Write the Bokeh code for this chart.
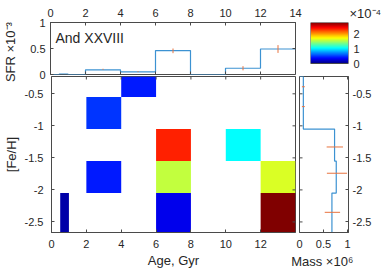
import numpy as np
from bokeh.plotting import figure
from bokeh.models import Range1d, FixedTicker, Label, LinearColorMapper, ColumnDataSource, Title
from bokeh.layouts import row, column
from bokeh.embed import file_html
from bokeh.resources import INLINE

# ---------------- data ----------------
galaxy = "And XXVIII"
age_ticks = [0, 2, 4, 6, 8, 10, 12, 14]
age_ticks_main = [0, 2, 4, 6, 8, 10, 12]
feh_ticks = [-2.5, -2, -1.5, -1, -0.5]
sfr_ticks = [0, 0.5, 1]
mass_ticks = [0, 0.5, 1]
cbar_ticks = [0, 1, 2]

# star formation history (x 1e-3), stairs over age bins (Gyr)
sfr_edges = [0, 0.5, 1, 2, 4, 6, 8, 10, 12, 14]
sfr_vals = [0.0, 0.01, 0.0, 0.09, 0.05, 0.46, 0.0, 0.12, 0.49]
sfr_err_age = [3, 5, 7, 11, 13]
sfr_err_mid = [0.10, 0.055, 0.455, 0.12, 0.49]
sfr_err_half = [0.01, 0.008, 0.045, 0.04, 0.075]

# age-metallicity cells (SFR, x 1e-4)
cell_age_lo = [0.5, 2, 2, 4, 6, 6, 6, 10, 12, 12]
cell_age_hi = [1, 4, 4, 6, 8, 8, 8, 12, 14, 14]
cell_feh_lo = [-2.665, -2.05, -1.05, -0.55, -1.55, -2.05, -2.665, -1.55, -2.05, -2.665]
cell_feh_hi = [-2.05, -1.55, -0.55, -0.23, -1.05, -1.55, -2.05, -1.05, -1.55, -2.05]
cell_sfr = [0.11, 0.42, 0.50, 0.42, 2.36, 1.575, 0.30, 1.06, 1.645, 2.8]
cbar_max = 2.8

# mass per metallicity bin (x 1e6), stairs from top to bottom
mass_edges = [-0.23, -0.55, -1.05, -1.55, -2.05, -2.665]
mass_vals = [0.08, 0.08, 0.73, 0.765, 0.675]
mass_err_feh = [-0.39, -0.70, -1.33, -1.74, -2.35]
mass_err_mid = [0.08, 0.08, 0.735, 0.78, 0.685]
mass_err_half = [0.03, 0.03, 0.17, 0.21, 0.16]
mass_max = 1.02

# ---------------- style ----------------
FONT = "Liberation Sans"
TXT = "#262626"
AX = "#4a4a4a"
LINE = "#3c92d2"
ERR = "#e8733f"
TICK_PX = "11px"
LAB_PX = "13px"
NB = "\u00a0"
BAR_FRAC = 41 / 52  # colour bar occupies the upper part of its panel
TICK_LEN = 3


def jet(n=256):
    f = np.linspace(0, 1, n)
    r = np.clip(1.5 - np.abs(4 * f - 3), 0, 1)
    g = np.clip(1.5 - np.abs(4 * f - 2), 0, 1)
    b = np.clip(1.5 - np.abs(4 * f - 1), 0, 1)
    return ["#%02x%02x%02x" % (int(round(255 * a)), int(round(255 * c)), int(round(255 * d)))
            for a, c, d in zip(r, g, b)]


mapper = LinearColorMapper(palette=jet(), low=0, high=cbar_max)


def fmt(t):
    return "%g" % t


def style_axis(ax, ticks, standoff, label=None, label_standoff=0):
    ax.ticker = FixedTicker(ticks=ticks)
    ax.major_label_overrides = {t: fmt(t) for t in ticks}
    ax.major_tick_in = TICK_LEN
    ax.major_tick_out = 0
    ax.minor_tick_line_color = None
    ax.axis_line_color = AX
    ax.major_tick_line_color = AX
    ax.major_label_standoff = standoff
    ax.major_label_text_font = FONT
    ax.major_label_text_color = TXT
    ax.major_label_text_font_size = TICK_PX
    if label is not None:
        ax.axis_label = label
        ax.axis_label_standoff = label_standoff
        ax.axis_label_text_font = FONT
        ax.axis_label_text_font_size = LAB_PX
        ax.axis_label_text_font_style = "normal"
        ax.axis_label_text_color = TXT


def base(p):
    p.grid.grid_line_color = None
    p.outline_line_color = AX
    p.outline_line_width = 1
    p.background_fill_color = "white"


def mirror_x(p, ticks, y_edge, inward_angle):
    # inward tick marks on the opposite (box) edge
    p.ray(x=ticks, y=[y_edge] * len(ticks), length=TICK_LEN, length_units="screen",
          angle=inward_angle, line_color=AX, line_width=1)


def mirror_y(p, ticks, x_edge, inward_angle):
    p.ray(x=[x_edge] * len(ticks), y=ticks, length=TICK_LEN, length_units="screen",
          angle=inward_angle, line_color=AX, line_width=1)


x_rng = Range1d(0, 14)
feh_rng = Range1d(mass_edges[-1], mass_edges[0])
sfr_rng = Range1d(0, 1)
mass_rng = Range1d(0, mass_max)

# ---------------- top: SFR(t) ----------------
top = figure(width=307, height=94, x_range=x_rng, y_range=sfr_rng,
             x_axis_location="above", y_axis_location="left",
             output_backend="svg", toolbar_location=None,
             min_border_left=49, min_border_right=12, min_border_top=22, min_border_bottom=20)
base(top)
style_axis(top.xaxis[0], age_ticks, 6)
style_axis(top.yaxis[0], sfr_ticks, 5, label="SFR \u00d710\u207b\u00b3" + NB * 2, label_standoff=9)

sx, sy = [], []
for i, v in enumerate(sfr_vals):
    sx += [sfr_edges[i], sfr_edges[i + 1]]
    sy += [v, v]
top.line(sx, sy, line_color=LINE, line_width=1.2)
top.segment(x0=sfr_err_age, x1=sfr_err_age,
            y0=[m - h for m, h in zip(sfr_err_mid, sfr_err_half)],
            y1=[m + h for m, h in zip(sfr_err_mid, sfr_err_half)],
            line_color=ERR, line_width=1)
mirror_x(top, age_ticks, sfr_rng.start, np.pi / 2)
mirror_y(top, sfr_ticks, x_rng.end, np.pi)
top.add_layout(Label(x=5, y=37, x_units="screen", y_units="screen", text=galaxy,
                     text_font=FONT, text_font_size="14px", text_color=TXT,
                     text_align="left", text_baseline="alphabetic"))

# ---------------- colorbar (same borders as the SFR panel, bar in its upper part) ----------------
cbar = figure(width=76, height=94, x_range=Range1d(0, 1),
              y_range=Range1d(cbar_max - cbar_max / BAR_FRAC, cbar_max),
              x_axis_location=None, y_axis_location="right",
              output_backend="svg", toolbar_location=None,
              min_border_left=3, min_border_right=35, min_border_top=22, min_border_bottom=20)
cbar.grid.grid_line_color = None
cbar.outline_line_color = None
style_axis(cbar.yaxis[0], cbar_ticks, 5)
cbar.yaxis[0].axis_line_color = None
cbar.yaxis[0].major_tick_line_color = None
cbar.image(image=[np.linspace(0, cbar_max, 256).reshape(256, 1)], x=0, y=0, dw=1, dh=cbar_max,
           color_mapper=mapper)
cbar.quad(left=[0], right=[1], bottom=[0], top=[cbar_max], fill_color=None,
          line_color=AX, line_width=1)
cbar.add_layout(Title(text="\u00d710\u207b\u2074", align="left", offset=39, standoff=3,
                      text_font=FONT, text_font_size=LAB_PX, text_font_style="normal",
                      text_color=TXT), "above")

# ---------------- main: age-metallicity ----------------
main = figure(width=301, height=200, x_range=x_rng, y_range=feh_rng,
              output_backend="svg", toolbar_location=None,
              min_border_left=49, min_border_right=6, min_border_top=4, min_border_bottom=40)
base(main)
main.border_fill_alpha = 0
style_axis(main.xaxis[0], age_ticks_main, 7, label="Age, Gyr", label_standoff=2)
style_axis(main.yaxis[0], feh_ticks, 8, label="[Fe/H]", label_standoff=3)

cells = ColumnDataSource(dict(l=cell_age_lo, r=cell_age_hi, b=cell_feh_lo, t=cell_feh_hi, v=cell_sfr))
main.quad(left="l", right="r", bottom="b", top="t", source=cells,
          fill_color={"field": "v", "transform": mapper}, line_color=None)
mirror_x(main, age_ticks, feh_rng.end, -np.pi / 2)
mirror_y(main, feh_ticks, x_rng.end, np.pi)

# ---------------- mass(FeH) ----------------
mass = figure(width=101, height=200, x_range=mass_rng, y_range=feh_rng,
              y_axis_location="right", output_backend="svg", toolbar_location=None,
              min_border_left=16, min_border_right=36, min_border_top=4, min_border_bottom=40,
              margin=(0, 0, 0, -18))
base(mass)
mass.border_fill_alpha = 0
style_axis(mass.xaxis[0], mass_ticks, 7, label="Mass  \u00d710\u2076", label_standoff=3)
style_axis(mass.yaxis[0], feh_ticks, 4)

mx, my = [0.0], [mass_edges[0]]
for i, v in enumerate(mass_vals):
    mx += [v, v]
    my += [mass_edges[i], mass_edges[i + 1]]
mx.append(0.0)
my.append(mass_edges[-1])
mass.line(mx, my, line_color=LINE, line_width=1.2)
mass.segment(x0=[m - h for m, h in zip(mass_err_mid, mass_err_half)],
             x1=[m + h for m, h in zip(mass_err_mid, mass_err_half)],
             y0=mass_err_feh, y1=mass_err_feh, line_color=ERR, line_width=1)
mirror_x(mass, mass_ticks, feh_rng.end, -np.pi / 2)
mirror_y(mass, feh_ticks, mass_rng.start, 0.0)

top_row = row(top, cbar)
bottom_row = row(main, mass, margin=(-22, 0, 0, 0))
layout = column(top_row, bottom_row)

open("out.html", "w").write(file_html(layout, INLINE, title="And XXVIII"))
